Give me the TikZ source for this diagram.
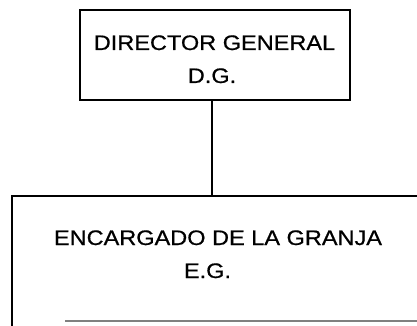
\documentclass[tikz,border=0pt]{standalone}
\usepackage{fontspec}
\setmainfont{Liberation Sans}[FakeStretch=1.12, FakeBold=0.7]

\begin{document}
\begin{tikzpicture}[x=1pt, y=1pt,
    box/.style={minimum width=#1, inner sep=0pt, outer sep=0pt},
    lbl/.style={anchor=base, inner sep=0pt, font=\fontsize{21}{25}\selectfont}]
    \useasboundingbox (0, 0) rectangle (417, -326);

    % director
    \node[box=270, minimum height=90, draw, line width=1.8pt] (dg) at (215, -55) {};
    \node[lbl] (dgname) at (214.5, -50) {DIRECTOR GENERAL};
    \node[lbl] (dgabbr) at (212, -83) {D.G.};

    % encargado
    \node[box=428, minimum height=125] (eg) at (226, -258.5) {};
    \draw[line width=1.8pt] (eg.north east) -- (eg.north west) -- ++(0, -135);
    \draw[gray, line width=1.2pt] ([xshift=53pt]eg.south west) -- (eg.south east);
    \node[lbl] (egname) at (218, -245) {ENCARGADO DE LA GRANJA};
    \node[lbl] (egabbr) at (207.5, -278) {E.G.};

    \draw[line width=1.4pt] (dg.south -| 212, 0) -- (eg.north -| 212, 0);
\end{tikzpicture}
\end{document}
